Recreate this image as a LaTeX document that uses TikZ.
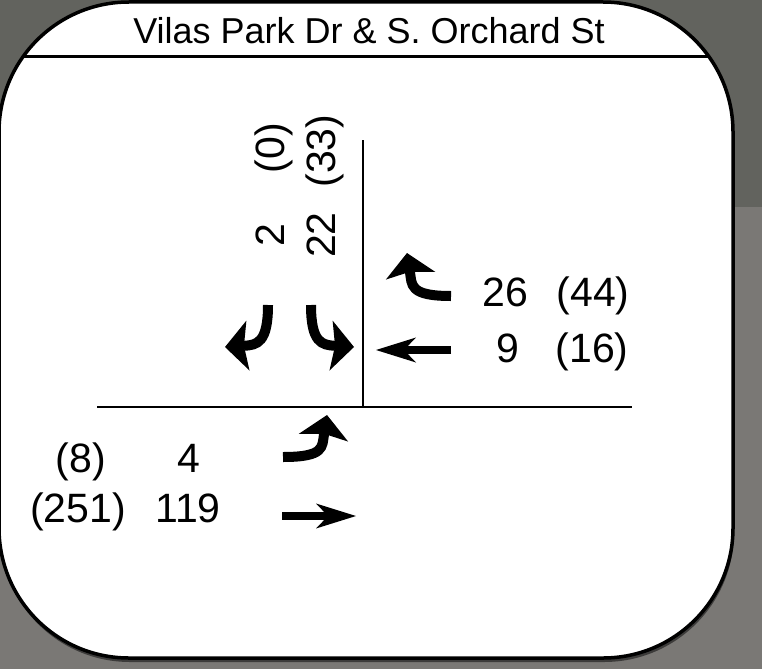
\documentclass[tikz,border=0pt]{standalone}
\usepackage{fontspec}
\setmainfont{Liberation Sans}
\usetikzlibrary{arrows.meta}

\definecolor{photogray}{RGB}{98,99,94}
\definecolor{photolight}{RGB}{122,120,117}

\begin{document}
\begin{tikzpicture}[x=1pt, y=-1pt,
	every node/.style={inner sep=0pt, font=\fontsize{41}{49}\selectfont},
	road/.style={line width=2pt},
	turnarrow/.style={line width=10pt, -{Stealth[length=23pt, width=50pt, inset=4pt, line width=0pt]}},
	thruarrow/.style={line width=8pt, -{Stealth[length=40pt, width=25pt, inset=12pt, line width=0pt]}}]
			% aerial photo behind the panel
			\fill[photogray] (0,0) rectangle (762,669);
			\fill[photolight] (0,207) rectangle (762,669);
			\useasboundingbox (0,0) rectangle (762,669);
			
			% panel
			\fill[black, opacity=0.5, rounded corners=130pt] (0,4) rectangle (734,662);
			\draw[line width=3.5pt, fill=white, rounded corners=130pt] (-1,2) rectangle (733,658);
			\begin{scope}
				\clip[rounded corners=130pt] (-1,2) rectangle (733,658);
				\draw[line width=3pt] (0,57) -- (762,57);
			\end{scope}
			\node[anchor=base, font=\fontsize{36}{43}\selectfont] (title) at (369,44){Vilas Park Dr \& S. Orchard St};
			
			% roads
			\coordinate (w) at (97,407);
			\coordinate (e) at (632,407);
			\coordinate (n) at (363,140);
			\coordinate (x) at (363,407);
			\draw[road] (w) -- (e);
			\draw[road] (n) -- (x);
			
			% southbound
			\node[rotate=90, anchor=base] (sbl-pm) at (284,148){(0)};
			\node[rotate=90, anchor=base] (sbr-pm) at (335,151){(33)};
			\node[rotate=90, anchor=base] (sbl-am) at (284,235){2};
			\node[rotate=90, anchor=base] (sbr-am) at (335,235){22};
			\coordinate (sbl-s) at (268,305);
			\coordinate (sbl-t) at (225,347);
			\coordinate (sbr-s) at (311,305);
			\coordinate (sbr-t) at (354,347);
			\draw[turnarrow] (sbl-s) .. controls +(0,38) and +(32,-2) .. (sbl-t);
			\draw[turnarrow] (sbr-s) .. controls +(0,38) and +(-32,-2) .. (sbr-t);
			
			% westbound
			\node[anchor=base] (wbr-am) at (505,306){26};
			\node[anchor=base] (wbr-pm) at (593,306){(44)};
			\node[anchor=base] (wbt-am) at (508,362){9};
			\node[anchor=base] (wbt-pm) at (592,362){(16)};
			\coordinate (wbr-s) at (451,296);
			\coordinate (wbr-t) at (407,253);
			\coordinate (wbt-s) at (451,350);
			\coordinate (wbt-t) at (376,350);
			\draw[turnarrow] (wbr-s) .. controls +(-42,0) and +(5,32) .. (wbr-t);
			\draw[thruarrow] (wbt-s) -- (wbt-t);
			
			% eastbound
			\node[anchor=base] (ebl-pm) at (81,472){(8)};
			\node[anchor=base] (ebl-am) at (189,472){4};
			\node[anchor=base] (ebt-pm) at (78,522){(251)};
			\node[anchor=base] (ebt-am) at (188,522){119};
			\coordinate (ebl-s) at (283,457);
			\coordinate (ebl-t) at (327,415);
			\coordinate (ebt-s) at (282,516);
			\coordinate (ebt-t) at (356,516);
			\draw[turnarrow] (ebl-s) .. controls +(42,0) and +(-5,32) .. (ebl-t);
			\draw[thruarrow] (ebt-s) -- (ebt-t);
\end{tikzpicture}
\end{document}
